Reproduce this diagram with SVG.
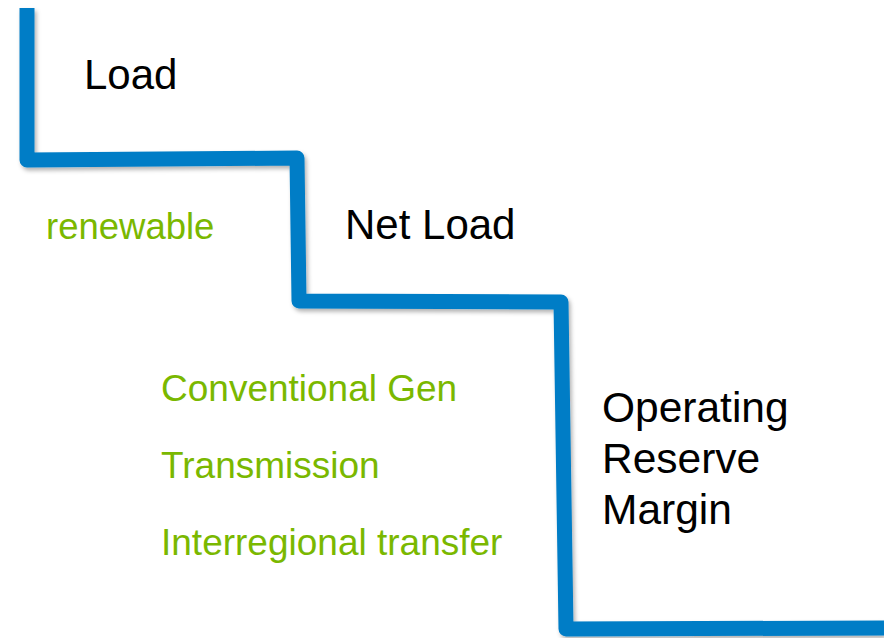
<svg xmlns="http://www.w3.org/2000/svg" width="884" height="638" viewBox="0 0 884 638">
  <defs>
    <filter id="shadow" x="-5%" y="-5%" width="110%" height="110%">
      <feDropShadow dx="2" dy="3" stdDeviation="2" flood-color="#000" flood-opacity="0.3"/>
    </filter>
    <style>
      .black { font-family: "Liberation Sans", Arial, sans-serif; fill: #000; }
      .green { font-family: "Liberation Sans", Arial, sans-serif; fill: #7AB800; }
      .stair { fill: none; stroke: #007DC6; stroke-width: 15; stroke-linejoin: round; stroke-linecap: butt; }
    </style>
  </defs>
  <rect width="884" height="638" fill="#fff"/>
  <g id="connectors">
    <path class="stair" filter="url(#shadow)" d="M27,8 L27,160 L297,158 L299,301 L561,302 L566,629 L884,628"/>
  </g>
  <g id="load"><text class="black" x="84" y="89" font-size="42">Load</text></g>
  <g id="net-load"><text class="black" x="345" y="239" font-size="42">Net Load</text></g>
  <g id="renewable"><text class="green" x="46" y="239" font-size="36.5">renewable</text></g>
  <g id="conventional-gen"><text class="green" x="161" y="401" font-size="37">Conventional Gen</text></g>
  <g id="transmission"><text class="green" x="161" y="478" font-size="37">Transmission</text></g>
  <g id="interregional"><text class="green" x="161" y="555" font-size="37">Interregional transfer</text></g>
  <g id="operating-reserve">
    <text class="black" x="602" y="422" font-size="42.5">Operating</text>
    <text class="black" x="602" y="473" font-size="42.5">Reserve</text>
    <text class="black" x="602" y="524" font-size="42.5">Margin</text>
  </g>
</svg>
